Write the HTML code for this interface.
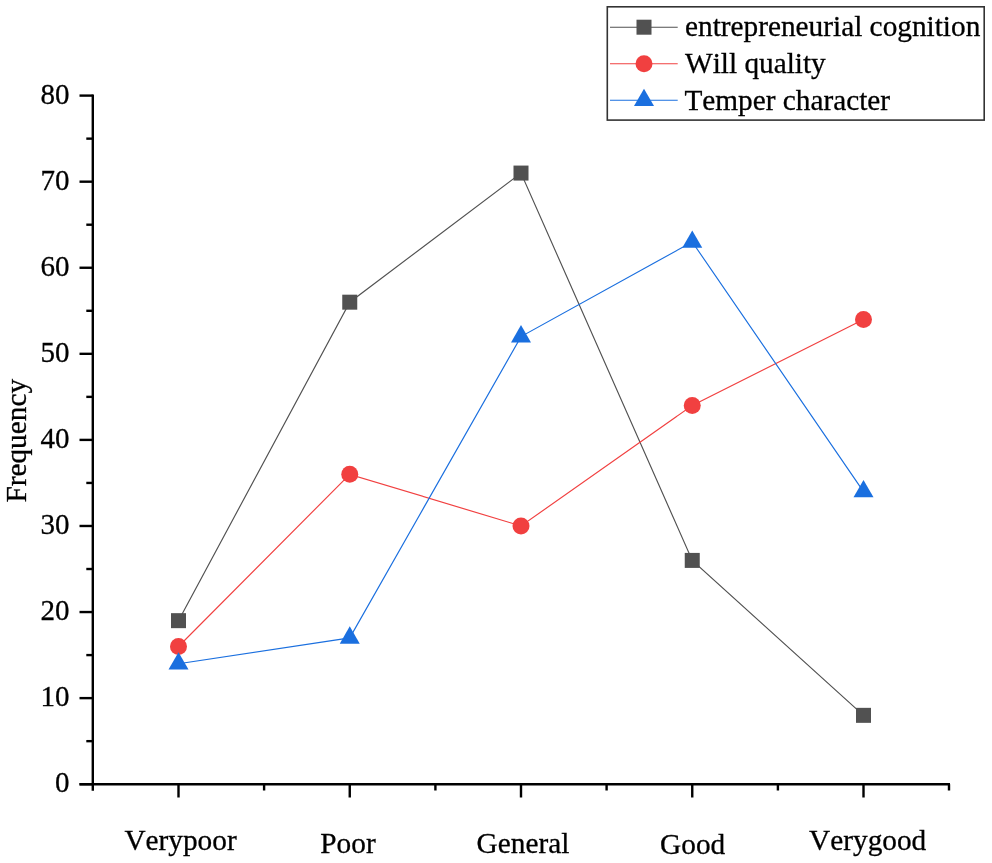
<!DOCTYPE html><html><head><meta charset="utf-8"><style>html,body{margin:0;padding:0;background:#fff;width:992px;height:863px;overflow:hidden}svg{display:block;will-change:transform}text{font-family:"Liberation Serif",serif;fill:#000;stroke:#000;stroke-width:0.3px;font-kerning:none}</style></head><body><svg width="992" height="863" viewBox="0 0 992 863"><line x1="92.8" y1="94.4" x2="92.8" y2="790.8" stroke="#000" stroke-width="2.4"/><line x1="79.5" y1="784.2" x2="950" y2="784.2" stroke="#000" stroke-width="2.4"/><line x1="79.5" y1="784.20" x2="92.8" y2="784.20" stroke="#000" stroke-width="2.4"/><text x="69.50" y="792.40" font-size="29" text-anchor="end">0</text><line x1="86.3" y1="741.16" x2="92.8" y2="741.16" stroke="#000" stroke-width="2.4"/><line x1="79.5" y1="698.12" x2="92.8" y2="698.12" stroke="#000" stroke-width="2.4"/><text x="69.50" y="706.33" font-size="29" text-anchor="end">10</text><line x1="86.3" y1="655.09" x2="92.8" y2="655.09" stroke="#000" stroke-width="2.4"/><line x1="79.5" y1="612.05" x2="92.8" y2="612.05" stroke="#000" stroke-width="2.4"/><text x="69.50" y="620.25" font-size="29" text-anchor="end">20</text><line x1="86.3" y1="569.01" x2="92.8" y2="569.01" stroke="#000" stroke-width="2.4"/><line x1="79.5" y1="525.98" x2="92.8" y2="525.98" stroke="#000" stroke-width="2.4"/><text x="69.50" y="534.18" font-size="29" text-anchor="end">30</text><line x1="86.3" y1="482.94" x2="92.8" y2="482.94" stroke="#000" stroke-width="2.4"/><line x1="79.5" y1="439.90" x2="92.8" y2="439.90" stroke="#000" stroke-width="2.4"/><text x="69.50" y="448.10" font-size="29" text-anchor="end">40</text><line x1="86.3" y1="396.86" x2="92.8" y2="396.86" stroke="#000" stroke-width="2.4"/><line x1="79.5" y1="353.83" x2="92.8" y2="353.83" stroke="#000" stroke-width="2.4"/><text x="69.50" y="362.03" font-size="29" text-anchor="end">50</text><line x1="86.3" y1="310.79" x2="92.8" y2="310.79" stroke="#000" stroke-width="2.4"/><line x1="79.5" y1="267.75" x2="92.8" y2="267.75" stroke="#000" stroke-width="2.4"/><text x="69.50" y="275.95" font-size="29" text-anchor="end">60</text><line x1="86.3" y1="224.71" x2="92.8" y2="224.71" stroke="#000" stroke-width="2.4"/><line x1="79.5" y1="181.68" x2="92.8" y2="181.68" stroke="#000" stroke-width="2.4"/><text x="69.50" y="189.88" font-size="29" text-anchor="end">70</text><line x1="86.3" y1="138.64" x2="92.8" y2="138.64" stroke="#000" stroke-width="2.4"/><line x1="79.5" y1="95.60" x2="92.8" y2="95.60" stroke="#000" stroke-width="2.4"/><text x="69.50" y="103.80" font-size="29" text-anchor="end">80</text><line x1="178.5" y1="784.2" x2="178.5" y2="797.5" stroke="#000" stroke-width="2.4"/><text x="124.40" y="850.10" font-size="29.3">Verypoor</text><line x1="349.75" y1="784.2" x2="349.75" y2="797.5" stroke="#000" stroke-width="2.4"/><text x="320.30" y="853.10" font-size="29.3">Poor</text><line x1="521.0" y1="784.2" x2="521.0" y2="797.5" stroke="#000" stroke-width="2.4"/><text x="476.60" y="852.70" font-size="29.3">General</text><line x1="692.25" y1="784.2" x2="692.25" y2="797.5" stroke="#000" stroke-width="2.4"/><text x="660.10" y="853.60" font-size="29.3">Good</text><line x1="863.5" y1="784.2" x2="863.5" y2="797.5" stroke="#000" stroke-width="2.4"/><text x="809.10" y="849.90" font-size="29.3">Verygood</text><line x1="264.1" y1="784.2" x2="264.1" y2="790.5" stroke="#000" stroke-width="2.4"/><line x1="435.4" y1="784.2" x2="435.4" y2="790.5" stroke="#000" stroke-width="2.4"/><line x1="606.6" y1="784.2" x2="606.6" y2="790.5" stroke="#000" stroke-width="2.4"/><line x1="777.9" y1="784.2" x2="777.9" y2="790.5" stroke="#000" stroke-width="2.4"/><line x1="949" y1="784.2" x2="949" y2="790.5" stroke="#000" stroke-width="2.4"/><text transform="translate(26.00,502.60) rotate(-90)" font-size="29.3">Frequency</text><polyline points="178.50,620.66 349.75,302.18 521.00,173.07 692.25,560.41 863.50,715.34" fill="none" stroke="#515151" stroke-width="1.15"/><polyline points="178.50,646.48 349.75,474.33 521.00,525.98 692.25,405.47 863.50,319.40" fill="none" stroke="#F14040" stroke-width="1.15"/><polyline points="178.50,663.70 349.75,637.87 521.00,336.61 692.25,241.93 863.50,491.55" fill="none" stroke="#1A6FDF" stroke-width="1.15"/><rect x="171.00" y="613.16" width="15" height="15" fill="#515151"/><rect x="342.25" y="294.68" width="15" height="15" fill="#515151"/><rect x="513.50" y="165.57" width="15" height="15" fill="#515151"/><rect x="684.75" y="552.91" width="15" height="15" fill="#515151"/><rect x="856.00" y="707.84" width="15" height="15" fill="#515151"/><circle cx="178.50" cy="646.48" r="8.5" fill="#F14040"/><circle cx="349.75" cy="474.33" r="8.5" fill="#F14040"/><circle cx="521.00" cy="525.98" r="8.5" fill="#F14040"/><circle cx="692.25" cy="405.47" r="8.5" fill="#F14040"/><circle cx="863.50" cy="319.40" r="8.5" fill="#F14040"/><polygon points="178.50,652.15 168.50,669.47 188.50,669.47" fill="#1A6FDF"/><polygon points="349.75,626.32 339.75,643.64 359.75,643.64" fill="#1A6FDF"/><polygon points="521.00,325.06 511.00,342.38 531.00,342.38" fill="#1A6FDF"/><polygon points="692.25,230.38 682.25,247.70 702.25,247.70" fill="#1A6FDF"/><polygon points="863.50,480.00 853.50,497.32 873.50,497.32" fill="#1A6FDF"/><rect x="607.3" y="6.8" width="376.9" height="113.3" fill="#fff" stroke="#333" stroke-width="1.6"/><line x1="610" y1="27.2" x2="677.7" y2="27.2" stroke="#515151" stroke-width="1.15"/><rect x="636.50" y="19.70" width="15" height="15" fill="#515151"/><text x="685.00" y="35.80" font-size="29.3">entrepreneurial cognition</text><line x1="610" y1="63.7" x2="677.7" y2="63.7" stroke="#F14040" stroke-width="1.15"/><circle cx="644.00" cy="63.70" r="8.5" fill="#F14040"/><text x="685.00" y="73.40" font-size="29.3">Will quality</text><line x1="610" y1="100.2" x2="677.7" y2="100.2" stroke="#1A6FDF" stroke-width="1.15"/><polygon points="644.00,88.65 634.00,105.97 654.00,105.97" fill="#1A6FDF"/><text x="684.40" y="109.80" font-size="29.3">Temper character</text></svg></body></html>
